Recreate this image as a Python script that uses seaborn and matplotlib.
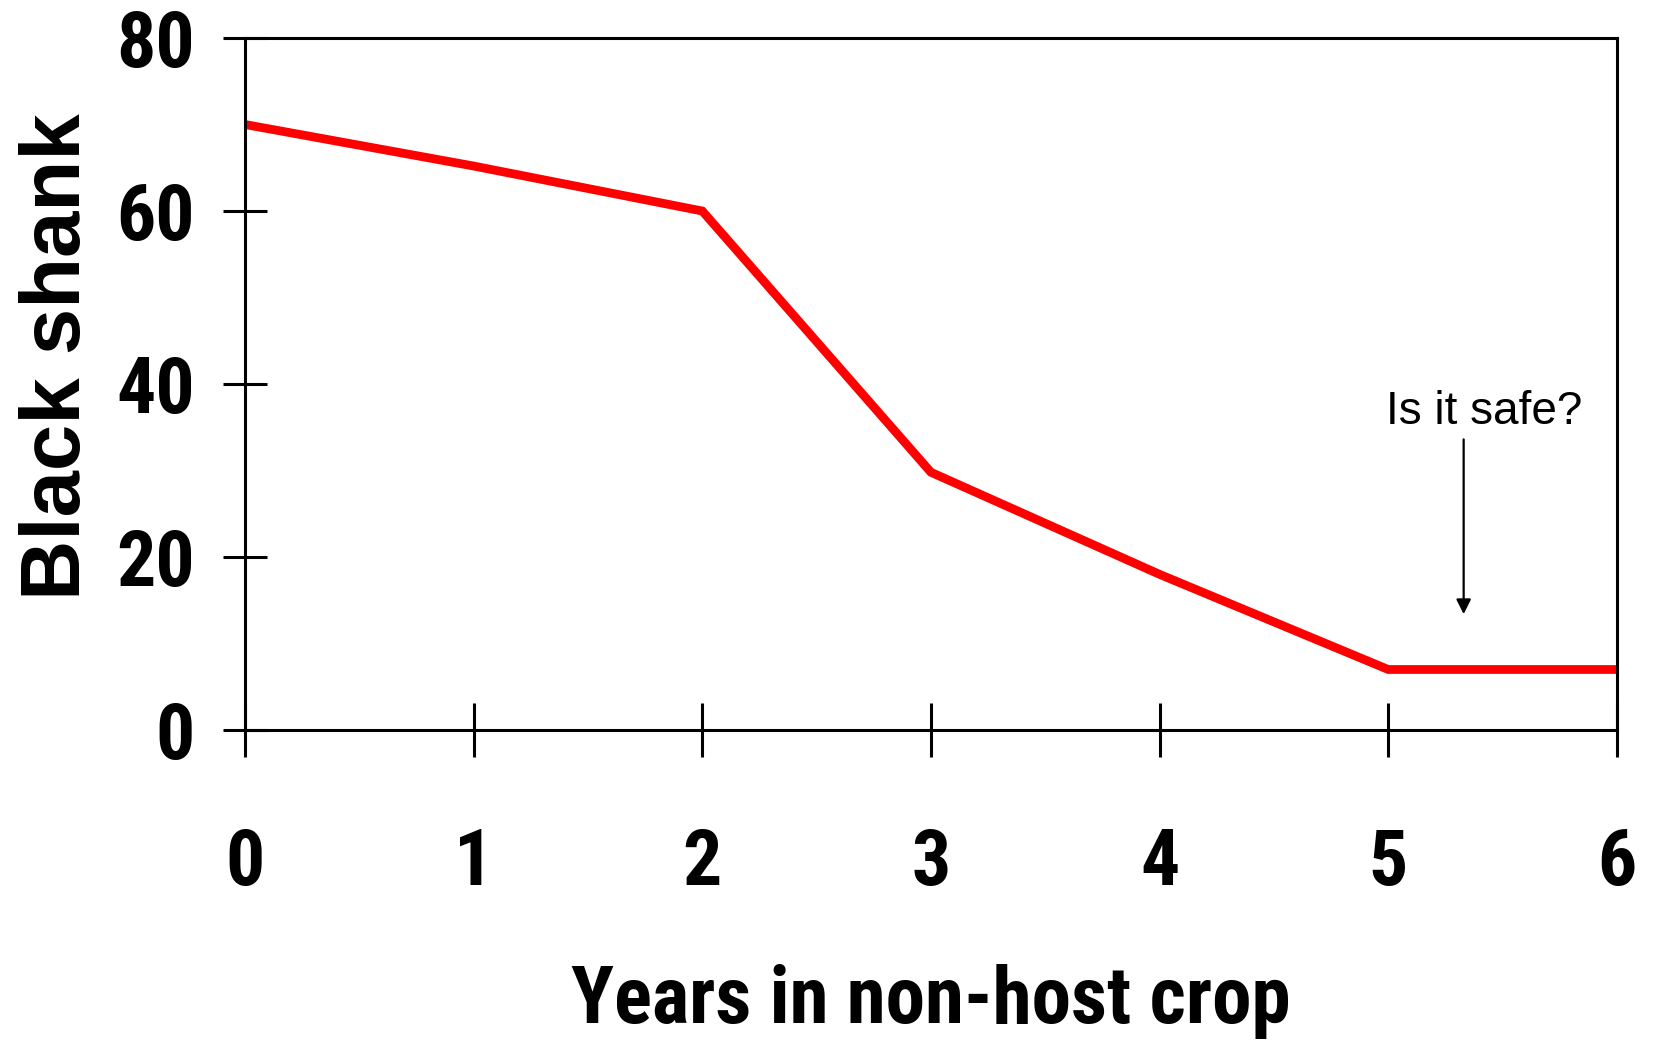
import matplotlib
matplotlib.use('Agg')
import matplotlib.pyplot as plt
import seaborn as sns
import pandas as pd

# data
years = [0, 1, 2, 3, 4, 5, 6]
black_shank = [70, 65.2, 60, 29.8, 18, 7, 7]
x_ticks = [0, 1, 2, 3, 4, 5, 6]
y_ticks = [0, 20, 40, 60, 80]

df = pd.DataFrame({'year': years, 'shank': black_shank})

sns.set_style('white')
narrow = ['Roboto Condensed', 'Liberation Sans', 'DejaVu Sans']
plt.rcParams['font.family'] = ['Liberation Sans', 'DejaVu Sans']

fig = plt.figure(figsize=(16.6, 10.41), dpi=100)
ax = fig.add_axes([0.1476, 0.2987, 0.8264, 0.6648])

sns.lineplot(data=df, x='year', y='shank', ax=ax, color='#ff0000', linewidth=6.3,
             solid_capstyle='round', solid_joinstyle='miter')

ax.set_xlim(0, 6)
ax.set_ylim(0, 80)
ax.set_xticks(x_ticks)
ax.set_yticks(y_ticks)
ax.set_xticklabels([str(v) for v in x_ticks], family=narrow, fontweight='bold', fontsize=56, color='black')
ax.set_yticklabels([str(v) for v in y_ticks], family=narrow, fontweight='bold', fontsize=56, color='black')

for s in ax.spines.values():
    s.set_visible(True)
    s.set_color('black')
    s.set_linewidth(2.2)

ax.tick_params(axis='x', bottom=True, direction='inout', length=39, width=2.2, pad=50, color='black')
ax.tick_params(axis='y', left=True, direction='inout', length=32, width=2.2, pad=20, color='black')

ax.set_xlabel('Years in non-host crop', family=narrow, fontweight='bold', fontsize=57,
              labelpad=46, color='black')
ax.set_ylabel('Black shank', fontweight='bold', fontsize=60, color='black')
ax.yaxis.set_label_coords(-0.108, 0.539)

# annotation
ax.annotate('', xy=(5.33, 13.4), xytext=(5.33, 33.6),
            arrowprops=dict(arrowstyle='-|>', color='black', lw=1.6, mutation_scale=22,
                            shrinkA=0, shrinkB=0))
ax.text(5.42, 35.4, 'Is it safe?', ha='center', va='baseline', fontsize=33, color='black')

fig.savefig('out.png', dpi=100, facecolor='white')
